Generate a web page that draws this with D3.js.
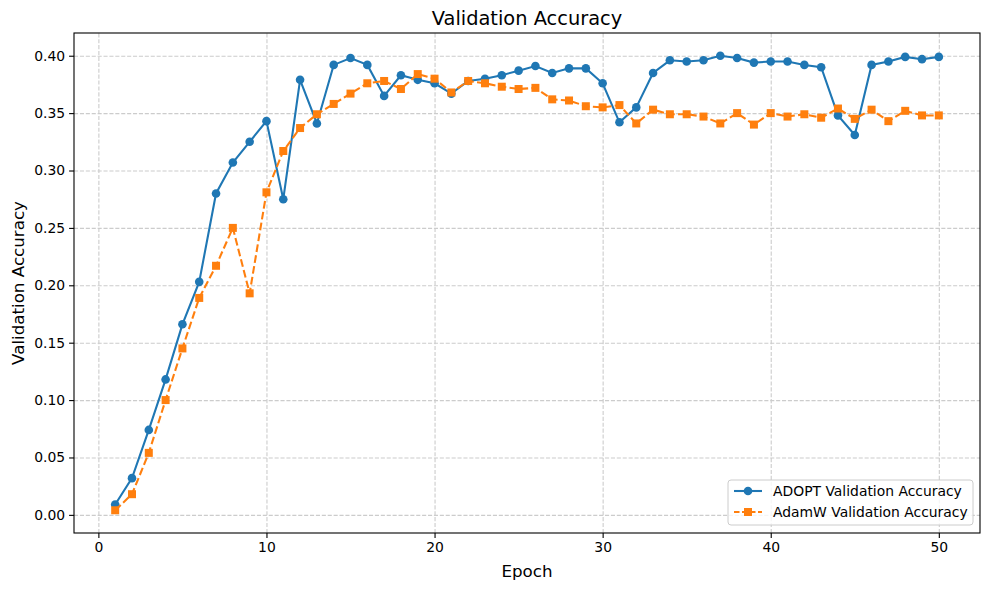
<!DOCTYPE html>
<html lang="en">
<head>
  <meta charset="UTF-8" />
  <title>Validation Accuracy</title>
  <script src="https://d3js.org/d3.v7.min.js"></script>
  <style>
    body { margin: 0; background: #fff; font-family: "DejaVu Sans", sans-serif; }
    .grid line { stroke: #cccccc; stroke-dasharray: 4.1,1.8; stroke-width: 1.1; }
    .grid path { display: none; }
    .axis text { font-size: 13.9px; font-family: "DejaVu Sans", sans-serif; fill: #000; }
    .axis path, .axis line { stroke: #000; stroke-width: 1.1; }
  </style>
</head>
<body>
<script>
  // data
  var epochs = d3.range(1, 51);
  var adoptAcc = [0.009, 0.032, 0.074, 0.118, 0.166, 0.203, 0.280, 0.307, 0.325, 0.343,
                  0.275, 0.379, 0.341, 0.392, 0.398, 0.392, 0.365, 0.383, 0.379, 0.376,
                  0.367, 0.378, 0.380, 0.383, 0.387, 0.391, 0.385, 0.389, 0.389, 0.376,
                  0.342, 0.355, 0.385, 0.396, 0.395, 0.396, 0.400, 0.398, 0.394, 0.395,
                  0.395, 0.392, 0.390, 0.348, 0.331, 0.392, 0.395, 0.399, 0.397, 0.399];
  var adamwAcc = [0.004, 0.018, 0.054, 0.100, 0.145, 0.189, 0.217, 0.250, 0.193, 0.281,
                  0.317, 0.337, 0.349, 0.358, 0.367, 0.376, 0.378, 0.371, 0.384, 0.380,
                  0.368, 0.378, 0.376, 0.373, 0.371, 0.372, 0.362, 0.361, 0.356, 0.355,
                  0.357, 0.341, 0.353, 0.349, 0.349, 0.347, 0.341, 0.350, 0.340, 0.350,
                  0.347, 0.349, 0.346, 0.354, 0.345, 0.353, 0.343, 0.352, 0.348, 0.348];
  var xTicks = [0, 10, 20, 30, 40, 50];
  var yTicks = [0.00, 0.05, 0.10, 0.15, 0.20, 0.25, 0.30, 0.35, 0.40];
  var seriesNames = ["ADOPT Validation Accuracy", "AdamW Validation Accuracy"];

  var W = 989, H = 590;
  var margin = { top: 33, right: 9, bottom: 57, left: 74 };
  var width = W - margin.left - margin.right;
  var height = H - margin.top - margin.bottom;

  var svg = d3.select("body").append("svg")
    .attr("width", W).attr("height", H);

  var g = svg.append("g")
    .attr("transform", "translate(" + margin.left + "," + margin.top + ")");

  var x = d3.scaleLinear().domain([-1.45, 52.45]).range([0, width]);
  var y = d3.scaleLinear().domain([-0.0158, 0.4198]).range([height, 0]);

  // grid
  g.append("g").attr("class", "grid")
    .attr("transform", "translate(0," + height + ")")
    .call(d3.axisBottom(x).tickValues(xTicks).tickSize(-height).tickFormat(""));
  g.append("g").attr("class", "grid")
    .call(d3.axisLeft(y).tickValues(yTicks).tickSize(-width).tickFormat(""));

  var series = [
    { name: seriesNames[0], values: adoptAcc, color: "#1f77b4", dash: null, marker: "circle" },
    { name: seriesNames[1], values: adamwAcc, color: "#ff7f0e", dash: "7.7,3.3", marker: "square" }
  ];

  var line = d3.line()
    .x(function (d, i) { return x(epochs[i]); })
    .y(function (d) { return y(d); });

  series.forEach(function (s) {
    g.append("path")
      .datum(s.values)
      .attr("fill", "none")
      .attr("stroke", s.color)
      .attr("stroke-width", 2.08)
      .attr("stroke-dasharray", s.dash)
      .attr("d", line);

    if (s.marker === "circle") {
      g.selectAll(null).data(s.values).enter().append("circle")
        .attr("cx", function (d, i) { return x(epochs[i]); })
        .attr("cy", function (d) { return y(d); })
        .attr("r", 4.3)
        .attr("fill", s.color);
    } else {
      g.selectAll(null).data(s.values).enter().append("rect")
        .attr("x", function (d, i) { return x(epochs[i]) - 4; })
        .attr("y", function (d) { return y(d) - 4; })
        .attr("width", 8).attr("height", 8)
        .attr("fill", s.color);
    }
  });

  // axes
  g.append("g").attr("class", "axis")
    .attr("transform", "translate(0," + height + ")")
    .call(d3.axisBottom(x).tickValues(xTicks).tickSize(4.9).tickPadding(4).tickFormat(d3.format("d")))
    .call(function (a) { a.select(".domain").remove(); });
  g.append("g").attr("class", "axis")
    .call(d3.axisLeft(y).tickValues(yTicks).tickSize(4.9).tickPadding(4).tickFormat(d3.format(".2f")))
    .call(function (a) { a.select(".domain").remove(); });

  // frame
  g.append("rect")
    .attr("width", width).attr("height", height)
    .attr("fill", "none").attr("stroke", "#000").attr("stroke-width", 1.1);

  // labels
  svg.append("text")
    .attr("x", margin.left + width / 2).attr("y", 25)
    .attr("text-anchor", "middle")
    .style("font-size", "19.4px")
    .text("Validation Accuracy");

  svg.append("text")
    .attr("x", margin.left + width / 2).attr("y", 577)
    .attr("text-anchor", "middle")
    .style("font-size", "16.7px")
    .text("Epoch");

  svg.append("text")
    .attr("transform", "translate(24," + (margin.top + height / 2) + ") rotate(-90)")
    .attr("text-anchor", "middle")
    .style("font-size", "16.7px")
    .text("Validation Accuracy");

  // legend
  var lg = svg.append("g").attr("transform", "translate(728,480)");
  lg.append("rect")
    .attr("width", 245).attr("height", 45).attr("rx", 3)
    .attr("fill", "#fff").attr("fill-opacity", 0.8)
    .attr("stroke", "#cccccc");

  series.forEach(function (s, i) {
    var yy = 11 + i * 21;
    lg.append("line")
      .attr("x1", 6).attr("x2", 34).attr("y1", yy).attr("y2", yy)
      .attr("stroke", s.color).attr("stroke-width", 2.08)
      .attr("stroke-dasharray", s.dash ? "5.5,2.5" : null);
    if (s.marker === "circle") {
      lg.append("circle").attr("cx", 20).attr("cy", yy).attr("r", 4.3).attr("fill", s.color);
    } else {
      lg.append("rect").attr("x", 16).attr("y", yy - 4).attr("width", 8).attr("height", 8).attr("fill", s.color);
    }
    lg.append("text")
      .attr("x", 45).attr("y", yy + 5)
      .style("font-size", "13.9px")
      .text(s.name);
  });
</script>
</body>
</html>
